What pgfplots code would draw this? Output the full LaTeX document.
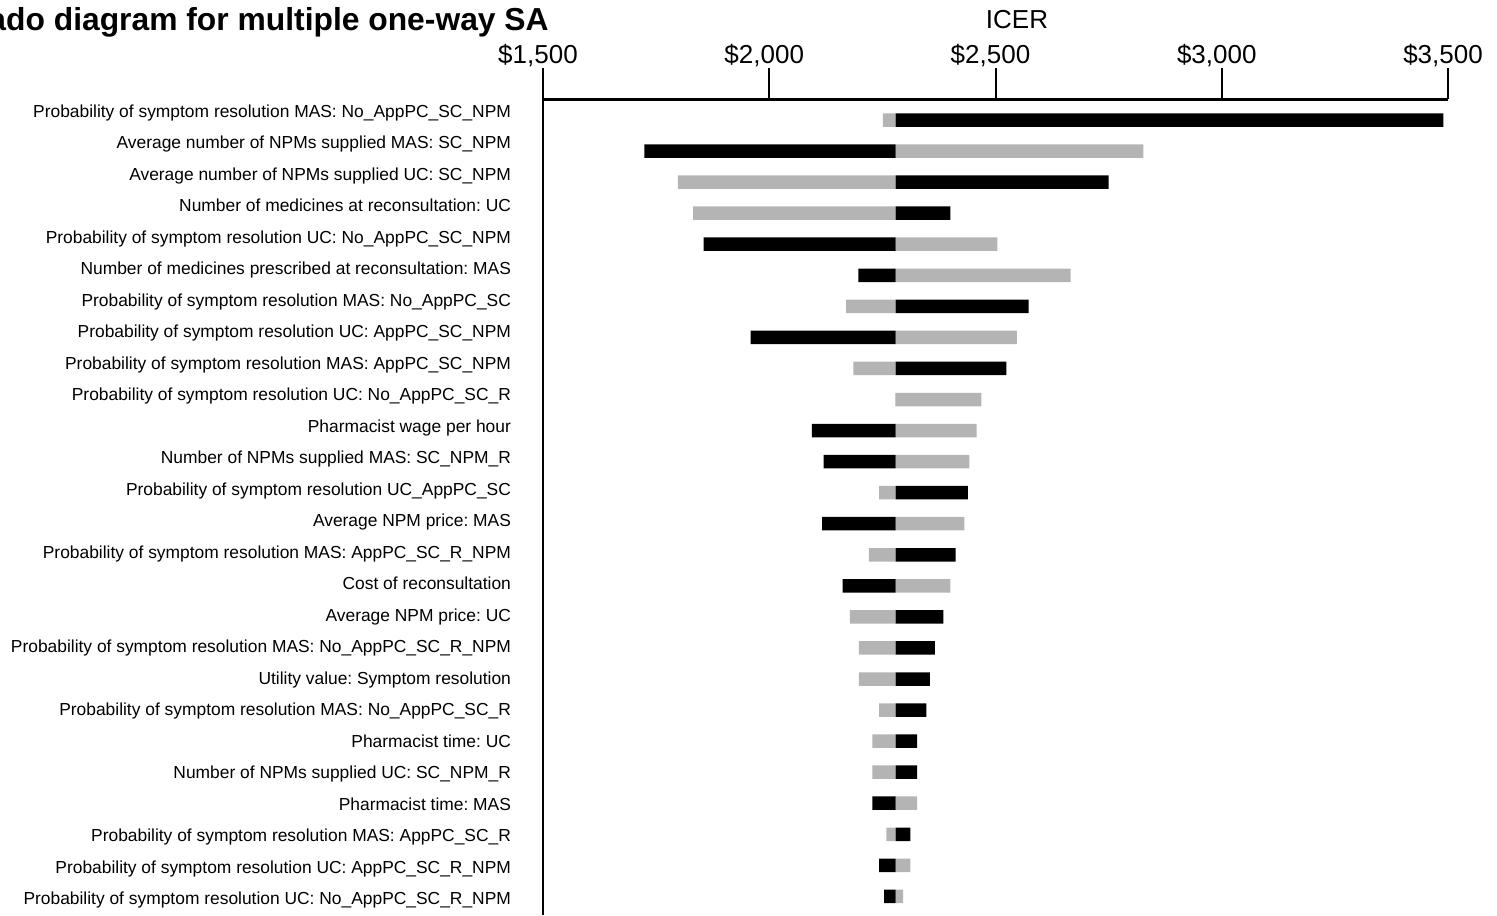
\documentclass[border=0pt]{standalone}
\usepackage{pgfplots}
\pgfplotsset{compat=1.18}
\usepackage{pgfplotstable}
\usepackage{fontspec}
\setmainfont{Liberation Sans}
\frenchspacing
\definecolor{bargray}{RGB}{180,180,180}

% ICER at the low / high end of each parameter range (gray and black bars)
\pgfplotstableread{
row gray black
1 2251 3490
2 2827 1724
3 1798 2750
4 1832 2400
5 2504 1855
6 2666 2197
7 2170 2573
8 2547 1959
9 2186 2524
10 2469 2279
11 2458 2094
12 2442 2120
13 2243 2439
14 2431 2117
15 2220 2412
16 2400 2162
17 2178 2385
18 2198 2366
19 2198 2355
20 2243 2347
21 2228 2327
22 2228 2327
23 2327 2228
24 2259 2312
25 2312 2243
26 2296 2254
}\tornado

\def\base{2279}

\begin{document}
\begin{tikzpicture}
\begin{axis}[
  at={(271.5pt,-49.65pt)}, anchor=north west,
  scale only axis, width=452.5pt, height=407.85pt,
  xmin=-779, xmax=1221,
  ymin=0.333, ymax=26.6, y dir=reverse,
  axis x line*=top, axis y line*=left,
  axis line style={line width=1.3pt, -},
  xtick={-779,-279,221,721,1221},
  xticklabels={{\$1,500\hspace{11pt}},{\$2,000},{\$2,500},{\$3,000},{\$3,500}},
  xtick align=outside, major tick length=15.5pt,
  xtick style={line width=1pt, black},
  xticklabel style={font=\fontsize{13}{13}\selectfont, xshift=-2.5pt, yshift=-3pt},
  ytick={0.71,1.7245,...,26.2}, ytick style={draw=none},
  yticklabel style={font=\fontsize{8.7}{10}\selectfont, anchor=base east, xshift=3pt, yshift=-3pt},
  yticklabels={
    {Probability of symptom resolution MAS: No\_AppPC\_SC\_NPM},
    {Average number of NPMs supplied MAS: SC\_NPM},
    {Average number of NPMs supplied UC: SC\_NPM},
    {Number of medicines at reconsultation: UC},
    {Probability of symptom resolution UC: No\_AppPC\_SC\_NPM},
    {Number of medicines prescribed at reconsultation: MAS},
    {Probability of symptom resolution MAS: No\_AppPC\_SC},
    {Probability of symptom resolution UC: AppPC\_SC\_NPM},
    {Probability of symptom resolution MAS: AppPC\_SC\_NPM},
    {Probability of symptom resolution UC: No\_AppPC\_SC\_R},
    {Pharmacist wage per hour},
    {Number of NPMs supplied MAS: SC\_NPM\_R},
    {Probability of symptom resolution UC\_AppPC\_SC},
    {Average NPM price: MAS},
    {Probability of symptom resolution MAS: AppPC\_SC\_R\_NPM},
    {Cost of reconsultation},
    {Average NPM price: UC},
    {Probability of symptom resolution MAS: No\_AppPC\_SC\_R\_NPM},
    {Utility value: Symptom resolution},
    {Probability of symptom resolution MAS: No\_AppPC\_SC\_R},
    {Pharmacist time: UC},
    {Number of NPMs supplied UC: SC\_NPM\_R},
    {Pharmacist time: MAS},
    {Probability of symptom resolution MAS: AppPC\_SC\_R},
    {Probability of symptom resolution UC: AppPC\_SC\_R\_NPM},
    {Probability of symptom resolution UC: No\_AppPC\_SC\_R\_NPM}
  },
  xbar, bar shift=0pt, bar width=6.75pt,
]
\addplot[xbar, bar shift=0pt, fill=bargray, draw=none] table[x expr=\thisrow{gray}-\base, y=row]{\tornado};
\addplot[xbar, bar shift=0pt, fill=black, draw=none] table[x expr=\thisrow{black}-\base, y=row]{\tornado};
\end{axis}
\node[font=\fontsize{13}{13}\selectfont] at (508.5pt,-10pt) {ICER};
\node[font=\bfseries\fontsize{15.9}{17}\selectfont, anchor=base east, inner sep=0pt] at (274.5pt,-15.5pt) {Tornado diagram for multiple one-way SA};
\pgfresetboundingbox
\useasboundingbox (0pt,0pt) rectangle (748.5pt,-457.5pt);
\end{tikzpicture}
\end{document}
